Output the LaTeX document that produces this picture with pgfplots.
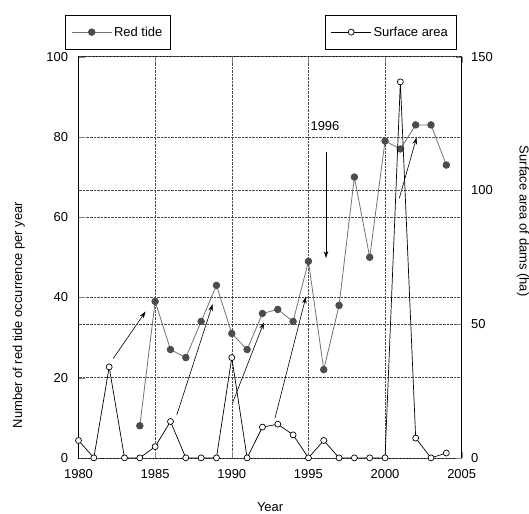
\documentclass[border=0pt]{standalone}
\usepackage{pgfplots}
\pgfplotsset{compat=1.18}
\usepackage{fontspec}
\setmainfont{Liberation Sans}
\usetikzlibrary{arrows.meta}

\definecolor{tideline}{gray}{0.45}
\definecolor{tidemark}{gray}{0.3}

\pgfplotsset{
  base/.style={
    scale only axis, width=383bp, height=401bp,
    xmin=1980, xmax=2005,
    tick align=inside, major tick length=6bp,
    /pgf/number format/assume math mode=true,
    /pgf/number format/1000 sep={},
    tick label style={font=\fontsize{13}{15}\selectfont},
    label style={font=\fontsize{13}{15}\selectfont, inner sep=0pt},
    grid style={densely dotted, black!70, line width=0.5bp},
    axis line style={line width=0.6bp},
    legend style={font=\fontsize{13}{15}\selectfont, draw=black, inner xsep=6bp, inner ysep=9.5bp, cells={anchor=west}},
    legend image code/.code={\draw[mark repeat=2,mark phase=2,#1] plot coordinates {(0bp,0bp)(20bp,0bp)(40bp,0bp)};},
  }
}

\begin{document}
\begin{tikzpicture}
\begin{axis}[base, name=ax,
  ymin=0, ymax=100, ytick={0,20,...,100}, ytick pos=left,
  xtick={1980,1985,...,2005}, xmajorgrids, ymajorgrids,
  xticklabel style={yshift=-8bp},
  yticklabel style={xshift=-7bp},
  xlabel={Year}, ylabel={Number of red tide occurrence per year},
  xlabel style={at={(axis description cs:0.5,-0.122)}, anchor=center},
  ylabel style={at={(axis description cs:-0.156,0.356)}, anchor=center},
  legend style={at={(-0.035,1.104)}, anchor=north west},
]
\addplot[tideline, line width=0.8bp, mark=*, mark size=3.3bp,
  mark options={fill=tidemark, draw=tidemark}] coordinates {
  (1984,8) (1985,39) (1986,27) (1987,25) (1988,34) (1989,43)
  (1990,31) (1991,27) (1992,36) (1993,37) (1994,34) (1995,49)
  (1996,22) (1997,38) (1998,70) (1999,50) (2000,79) (2001,77)
  (2002,83) (2003,83) (2004,73)
};
\addlegendentry{Red tide}
% arrows
\draw[-{Stealth[length=7bp,width=4.5bp]}, line width=0.6bp] (axis cs:1982.27,24.8) -- (axis cs:1984.38,36.5);
\draw[-{Stealth[length=7bp,width=4.5bp]}, line width=0.6bp] (axis cs:1986.41,10.7) -- (axis cs:1988.75,38.3);
\draw[-{Stealth[length=7bp,width=4.5bp]}, line width=0.6bp] (axis cs:1990.06,13.8) -- (axis cs:1992.10,33.8);
\draw[-{Stealth[length=7bp,width=4.5bp]}, line width=0.6bp] (axis cs:1992.82,9.9) -- (axis cs:1994.84,40.2);
\draw[-{Stealth[length=7bp,width=4.5bp]}, line width=0.6bp] (axis cs:1996.15,76.3) -- (axis cs:1996.15,49.8);
\draw[-{Stealth[length=7bp,width=4.5bp]}, line width=0.6bp] (axis cs:2000.93,64.7) -- (axis cs:2002.06,79.9);
\node[font=\fontsize{13}{15}\selectfont] at (axis cs:1996.08,82.7) {1996};
\end{axis}
\begin{axis}[base, axis x line=none, axis y line*=right,
  ymin=0, ymax=150, ytick={0,50,100,150}, ymajorgrids,
  yticklabel style={xshift=6bp},
  ylabel={Surface area of dams (ha)},
  ylabel style={at={(axis description cs:1.16,0.59)}, anchor=center, rotate=180},
  legend style={at={(0.985,1.104)}, anchor=north east},
]
\addplot[black, line width=0.7bp, mark=*, mark size=3bp,
  mark options={fill=white, draw=black}] coordinates {
  (1980,6.5) (1981,0) (1982,34) (1983,0) (1984,0) (1985,4.2)
  (1986,13.6) (1987,0) (1988,0) (1989,0) (1990,37.5) (1991,0)
  (1992,11.5) (1993,12.6) (1994,8.6) (1995,0) (1996,6.5) (1997,0)
  (1998,0) (1999,0) (2000,0) (2001,140.6) (2002,7.4) (2003,0)
  (2004,1.8)
};
\addlegendentry{Surface area}
\end{axis}
\path (ax.south west) ++(-78.5bp,-56bp);
\path (ax.north east) ++(67.3bp,56.7bp);
\end{tikzpicture}
\end{document}
